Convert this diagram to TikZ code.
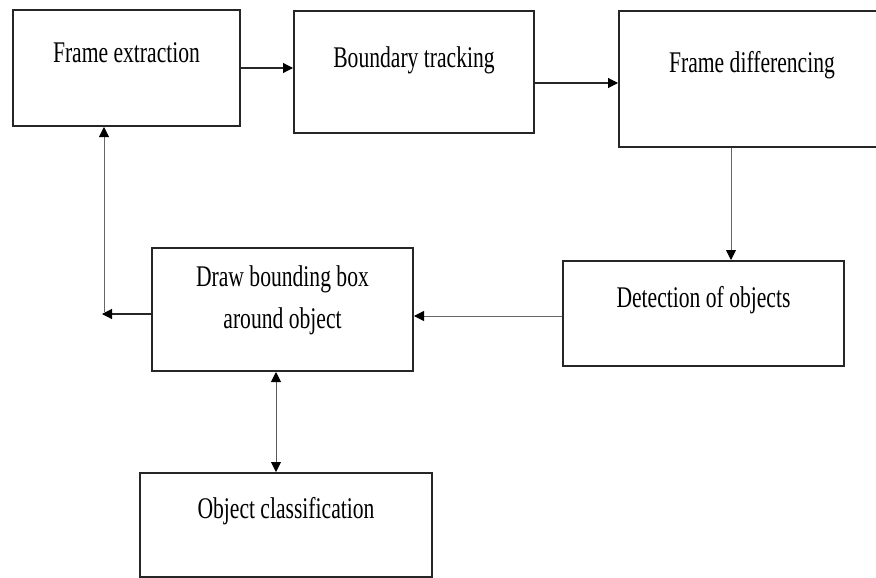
\documentclass[tikz,border=0pt]{standalone}
\usepackage{fontspec}
\setmainfont[FakeStretch=0.72]{Liberation Serif}
\usetikzlibrary{arrows.meta,calc}
\tikzset{
  box/.style={draw=black!85, line width=2pt, rectangle, inner sep=0pt, align=center,
    font=\fontsize{30}{42}\selectfont, text height=22pt},
  tip/.style={Triangle[length=10pt,width=10pt,fill=black,color=black]},
  arr/.style={draw=black!85, line width=1.1pt, -{Triangle[length=10pt,width=10pt,fill=black,color=black]}},
  thin/.style={draw=black!60, line width=0.8pt, -{Triangle[length=10pt,width=10pt,fill=black,color=black]}},
  darr/.style={draw=black!65, line width=0.9pt, {Triangle[length=10pt,width=10pt,fill=black,color=black]}-{Triangle[length=10pt,width=10pt,fill=black,color=black]}}
}
\begin{document}
\begin{tikzpicture}[x=1pt,y=-1pt]
\useasboundingbox (0,0) rectangle (876,578);
\fill[white] (0,0) rectangle (876,578);
\node[box, minimum width=227pt, minimum height=116pt, text depth=32pt] (fe) at (126.5,68) {Frame extraction};
\node[box, minimum width=240pt, minimum height=122pt, text depth=32pt] (bt) at (414,72) {Boundary tracking};
\node[box, minimum width=266pt, minimum height=136pt, text depth=34pt] (fd) at (752,79) {Frame differencing};
\node[box, minimum width=261pt, minimum height=123pt, text height=64pt, text depth=27pt] (db) at (282.5,309.5) {Draw bounding box\\around object};
\node[box, minimum width=281pt, minimum height=105pt, text depth=35pt] (det) at (703.5,313.5) {Detection of objects};
\node[box, minimum width=292pt, minimum height=104pt, text depth=36pt] (oc) at (286,525) {Object classification};

\coordinate (vx) at (731,0);
\coordinate (vx2) at (276,0);
\coordinate (lt) at (102,314);
\coordinate (up) at (104,312);

\draw[arr] (fe.east) -- (fe.east -| bt.west);
\draw[arr] ([yshift=-11pt]bt.east) -- ([yshift=-11pt]bt.east -| fd.west);
\draw[thin] (fd.south -| vx) -- (det.north -| vx);
\draw[thin] ([yshift=-2.5pt]det.west) -- ([yshift=-2.5pt]det.west -| db.east);
\draw[arr] ([yshift=-4.5pt]db.west) -- (lt);
\draw[thin] (up) -- (up |- fe.south);
\draw[darr] (db.south -| vx2) -- (oc.north -| vx2);
\end{tikzpicture}
\end{document}
